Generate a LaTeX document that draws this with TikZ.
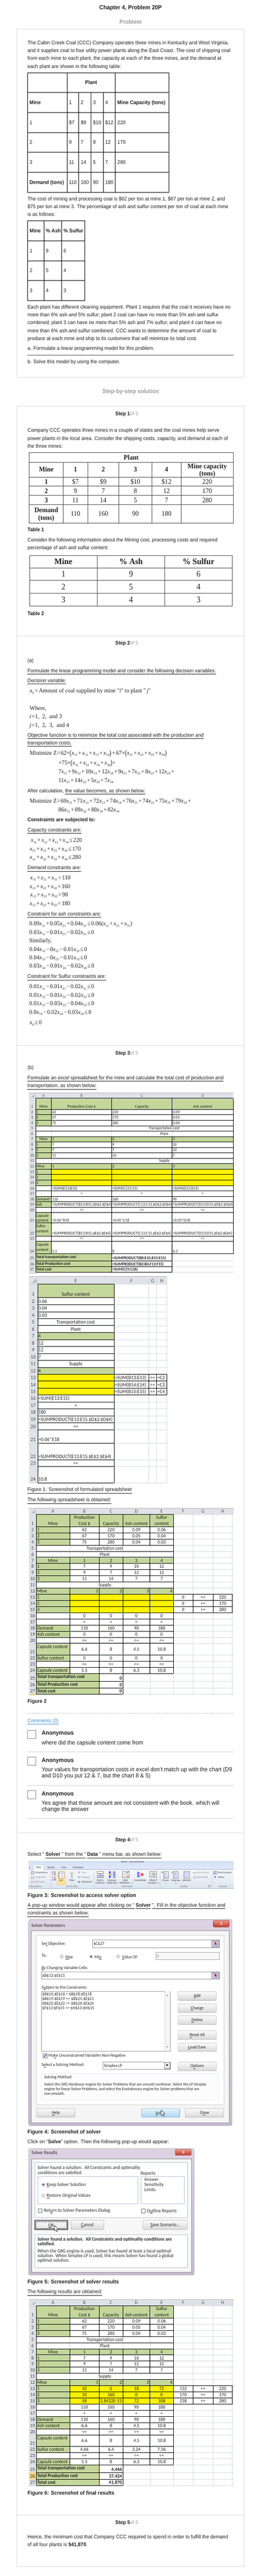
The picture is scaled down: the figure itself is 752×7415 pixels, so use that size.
\documentclass[tikz,border=0pt]{standalone}
\usepackage{fontspec}
\usepackage{graphicx}
\setmainfont[FakeStretch=0.94]{Liberation Sans}
\newfontfamily\serf[FakeStretch=0.94]{Liberation Serif}
\newfontfamily\calb[FakeStretch=0.94]{Carlito}
\definecolor{txt}{HTML}{1E1E1E}
\definecolor{boxb}{HTML}{DCDCDC}
\definecolor{gry}{HTML}{9A9A9A}
\definecolor{xgreen}{HTML}{C4D79B}
\definecolor{xhdr}{HTML}{DFE3E8}
\definecolor{xgrid}{HTML}{D5DAE2}
\definecolor{xtri}{HTML}{1E8C1E}
\definecolor{link}{HTML}{3C8DD3}
\definecolor{dlgA}{HTML}{DDD2E3}
\definecolor{dlgB}{HTML}{C9BCD1}
\definecolor{grpb}{HTML}{B4C4D6}
\definecolor{rbA}{HTML}{F6F8FB}
\definecolor{rbB}{HTML}{DCE5F0}
\definecolor{rbT}{HTML}{D3E1F1}
\definecolor{rbL}{HTML}{9DB2CB}
\definecolor{rowhl}{HTML}{F8D488}
\newcounter{nn}
\newcommand\fs[2]{\fontsize{#1}{#2}\selectfont}
\newcommand\TL[4][]{\stepcounter{nn}\node[anchor=base west,#1] (n\thenn) at (#2,#3) {#4};}
\newcommand\TC[4][]{\stepcounter{nn}\node[anchor=base,#1] (n\thenn) at (#2,#3) {#4};}
\newcommand\TR[4][]{\stepcounter{nn}\node[anchor=base east,#1] (n\thenn) at (#2,#3) {#4};}
\newcommand\ul[1]{\underline{#1\vphantom{gjpy}}}
\newcommand\mth{\serf\fs{17.5}{20}}
\newcommand\sx[1]{\textit{x}\kern0.3pt\raisebox{-3.3pt}{\fs{10}{10}#1}}
\newcommand\xij{\textit{x}\kern0.3pt\raisebox{-3.3pt}{\fs{10}{10}\textit{ij}}}
\newcommand\PL{\hspace{2.2pt}+\hspace{2.2pt}}
\newcommand\MI{\hspace{2.2pt}−\hspace{2.2pt}}
\newcommand\EQ{\hspace{2.2pt}=\hspace{2.2pt}}
\newcommand\LE{\hspace{2.2pt}≤\hspace{2.2pt}}
\newcommand\GE{\hspace{2.2pt}≥\hspace{2.2pt}}
\newcommand\TM{×}
\newcommand\LP{\raisebox{-1.3pt}{\scalebox{1}[1.3]{(}}}
\newcommand\RP{\raisebox{-1.3pt}{\scalebox{1}[1.3]{)}}}
\newcommand\StepHd[2]{\TC{364.6}{#1}{\textbf{Step #2}\textcolor{gry}{ of 5}}}
\newcommand\Radio[3]{\shade[inner color=white,outer color=black!18,draw=black!55] (#1,#2) circle (4.5pt);\ifnum#3=1 \fill[blue!25!black] (#1,#2) circle (2.2pt);\fi}
\newcommand\ChkBox[3]{\begin{scope}[shift={(#1,#2)}]\draw[black!55,fill=white] (0,0) rectangle (11.5,11.5);\ifnum#3=1 \draw[blue!50!black,line width=1.3pt] (2.5,5.5) -- (4.8,9) -- (9.3,2.3);\fi\end{scope}}
\newcommand\Cursor[2]{\begin{scope}[shift={(#1,#2)}]\draw[fill=white,draw=black,line width=0.7pt,line join=round] (0,0) -- (0,16) -- (3.8,12.4) -- (6.4,18.3) -- (8.9,17.2) -- (6.3,11.4) -- (11.3,11.4) -- cycle;\end{scope}}
\newcommand\RngIcon[2]{\begin{scope}[shift={(#1,#2)}]\draw[black!45,fill=black!4] (0,0) rectangle (20,19);\draw[blue!40!black!50,fill=white] (3,3) rectangle (17,16);\foreach \q in {6.3,9.6,12.9} \draw[blue!35] (3,\q) -- (17,\q);\draw[blue!35] (8,3) -- (8,16);\fill[red!75!black] (8.5,4.5) -- (15.5,8.5) -- (12.5,9.6) -- (14.6,13.4) -- (12.9,14.2) -- (10.8,10.4) -- (8.5,12.5) -- cycle;\end{scope}}
\newcommand\Btn[5]{\draw[btn] (#1,#2) rectangle (#3,#4);\stepcounter{nn}\node (n\thenn) at ({(#1+#3)/2},{(#2+#4)/2+0.5}) {#5};}
\newcommand\Tri[2]{\fill[xtri] (#1,#2) -- ++(4,0) -- ++(-4,4) -- cycle;}
\newcommand\DnTri[2]{\fill[black!70] (#1,#2) ++(-1.8,0) -- ++(3.6,0) -- ++(-1.8,2) -- cycle;}
% ---------- spreadsheet (figures 2 and 6), local coords, header top = 0
\newcommand\SheetB{%
\draw[black!30,line width=1.2pt] (82.6,-1) -- (672,-1);
\fill[xhdr] (82.6,0) rectangle (672,16.6);
\fill[xhdr] (82.6,16.6) rectangle (104.6,537);
\fill[black!25] (101.5,3) -- (101.5,14) -- (90.5,14) -- cycle;
\fill[xgreen] (104.6,16.6) rectangle (498.5,52.2);
\fill[xgreen] (104.6,52.2) rectangle (200.2,105.27);
\fill[xgreen] (104.6,140.65) rectangle (498.5,158.34);
\fill[xgreen] (104.6,158.34) rectangle (200.2,211.41);
\fill[xgreen] (104.6,229.1) rectangle (498.5,246.79);
\fill[xgreen] (104.6,246.79) rectangle (200.2,299.86);
\fill[yellow] (200.2,246.79) rectangle (498.5,299.86);
\fill[xgreen] (104.6,335.24) rectangle (200.2,370.62);
\fill[xgreen] (104.6,388.31) rectangle (200.2,439.6);
\fill[xgreen] (104.6,457.3) rectangle (200.2,474.9);
\fill[xgreen] (104.6,474.9) rectangle (285.1,534.6);
\foreach \y in {16.6,52.2,69.89,87.58,105.27,122.96,140.65,158.34,176.03,193.72,211.41,229.1,246.79,264.48,282.17,299.86,317.55,335.24,352.93,370.62,388.31,421.9,439.6,457.3,474.9,497,516.4,534.6} \draw[xg] (82.6,\y) -- (672,\y);
\foreach \x in {104.6,200.2,285.1,353.3,431.2,498.5,555.2,612.3,668.2} \draw[xg] (\x,0) -- (\x,537);
\foreach \y in {16.6,52.2,69.89,87.58,105.27,122.96,140.65,158.34,176.03,193.72,211.41,229.1,246.79,264.48,282.17,299.86,317.55,335.24,352.93,370.62,388.31,421.9,439.6,457.3,474.9} \draw[xb] (104.6,\y) -- (498.5,\y);
\foreach \y in {497,516.4,534.6} \draw[xb] (104.6,\y) -- (353.3,\y);
\draw[xb] (104.6,16.6) -- (104.6,534.6);
\draw[xb] (498.5,16.6) -- (498.5,474.9);
\foreach \x in {200.2,285.1,353.3,431.2} {\draw[xb] (\x,16.6) -- (\x,105.27); \draw[xb] (\x,140.65) -- (\x,211.41); \draw[xb] (\x,229.1) -- (\x,474.9);}
\draw[xb] (285.1,474.9) -- (285.1,534.6); \draw[xb] (353.3,474.9) -- (353.3,534.6);
\draw[xb] (498.5,246.79) rectangle (668.2,299.86);
\draw[xb] (498.5,264.48) -- (668.2,264.48); \draw[xb] (498.5,282.17) -- (668.2,282.17);
\draw[xb] (555.2,246.79) -- (555.2,299.86); \draw[xb] (612.3,246.79) -- (612.3,299.86);
\foreach \x in {200.2,285.1,353.3,431.2} {\Tri{\x}{299.86} \Tri{\x}{352.93} \Tri{\x}{421.9}}
\foreach \y in {246.79,264.48,282.17} {\Tri{498.5}{\y}}
\foreach \x/\t in {152.4/A,242.65/B,319.2/C,392.25/D,464.85/E,526.85/F,583.75/G,640.25/H} {\TC[text=black!70]{\x}{13.2}{\t}}
\foreach \n/\y in {1/48.2,2/65.9,3/83.6,4/101.3,5/119,6/136.7,7/154.4,8/172.1,9/189.8,10/207.5,11/225.2,12/242.9,13/260.6,14/278.3,15/296,16/313.7,17/331.4,18/349.1,19/366.8,20/384.5,21/418.1,22/435.8,23/453.5,24/471.1,25/493.2,26/512.6,27/530.8} {\TC[text=black!75]{93.6}{\y}{\n}}
\TC{152.4}{48.2}{Mine} \TC{242.65}{31}{Production} \TC{242.65}{48.2}{Cost \$} \TC{319.2}{48.2}{Capacity} \TC{392.25}{48.2}{Ash content} \TC{464.85}{31}{Sulfur} \TC{464.85}{48.2}{content}
\foreach \y/\qa/\qb/\qc/\qd/\qe in {65.9/1/62/220/0.09/0.06,83.6/2/67/170/0.05/0.04,101.3/3/75/280/0.04/0.03} {\TL{106.8}{\y}{\qa} \TC{242.65}{\y}{\qb} \TC{319.2}{\y}{\qc} \TC{392.25}{\y}{\qd} \TC{464.85}{\y}{\qe}}
\TC{301.6}{119}{Transportation cost} \TC{301.6}{136.7}{Plant}
\TC{152.4}{154.4}{Mine} \TC{242.65}{154.4}{1} \TC{319.2}{154.4}{2} \TC{392.25}{154.4}{3} \TC{464.85}{154.4}{4}
\foreach \y/\qa/\qb/\qc/\qd/\qe in {172.1/1/7/9/10/12,189.8/2/9/7/12/12,207.5/3/11/14/7/7} {\TL{106.8}{\y}{\qa} \TC{242.65}{\y}{\qb} \TC{319.2}{\y}{\qc} \TC{392.25}{\y}{\qd} \TC{464.85}{\y}{\qe}}
\TC{301.6}{225.2}{Supply}
\TL{106.8}{242.9}{Mine} \TR{282.6}{242.9}{1} \TR{350.8}{242.9}{2} \TR{428.7}{242.9}{3} \TR{496}{242.9}{4}
\foreach \y/\qa/\qh in {260.6/1/220,278.3/2/170,296/3/280} {\TL{106.8}{\y}{\qa} \TC{583.75}{\y}{<=} \TC{640.25}{\y}{\qh}}
\foreach \x in {242.65,319.2,392.25,464.85} {\TC{\x}{331.4}{=} \TC{\x}{384.5}{<=} \TC{\x}{453.5}{<=}}
\TL{106.8}{349.1}{Demand} \TC{242.65}{349.1}{110} \TC{319.2}{349.1}{160} \TC{392.25}{349.1}{90} \TC{464.85}{349.1}{180}
\TL{106.8}{366.8}{Ash content}
\TL{106.8}{402.5}{Capsule content} \TC{242.65}{410}{6.6} \TC{319.2}{410}{8} \TC{392.25}{410}{4.5} \TC{464.85}{410}{10.8}
\TL{106.8}{435.8}{Sulfur content}
\TL{106.8}{471.1}{Capsule content} \TC{242.65}{471.1}{5.5} \TC{319.2}{471.1}{8} \TC{392.25}{471.1}{6.3} \TC{464.85}{471.1}{10.8}
\TL{106.8}{489}{\textbf{Total transportation cost}}
\TL{106.8}{511}{\textbf{Total Production cost}}
\TL{106.8}{530.6}{\textbf{Total cost}}
}
\begin{document}
\begin{tikzpicture}[x=1pt,y=-1pt,
 every node/.style={inner sep=0pt,outer sep=0pt,text=txt,font=\fs{15}{22}},
 xb/.style={draw=black,line width=0.8pt},
 xg/.style={draw=xgrid,line width=0.6pt},
 btn/.style={draw=black!55,rounded corners=2pt,top color=black!2,bottom color=black!15},
 tt/.style={draw=black!70,line width=1.1pt},
 tb/.style={draw=black,line width=0.9pt}]
\fill[white] (0,0) rectangle (752,7415);
\useasboundingbox (0,0) rectangle (752,7415);
% ================= PROBLEM =================
\TC[font=\fs{17}{20}\bfseries]{375.5}{27.7}{Chapter 4, Problem 20P}
\TC[font=\fs{17}{20}\bfseries,text=gry]{375.5}{69.3}{Problem}
\draw[boxb,line width=1pt] (48,84.2) rectangle (702.6,1085.4);
\TL{79.2}{128.4}{The Cabin Creek Coal (CCC) Company operates three mines in Kentucky and West Virginia,}
\TL{79.2}{150.9}{and it supplies coal to four utility power plants along the East Coast. The cost of shipping coal}
\TL{79.2}{173.4}{from each mine to each plant, the capacity at each of the three mines, and the demand at}
\TL{79.2}{195.9}{each plant are shown in the following table:}
% table 1
\draw[tb] (79.1,209.6) rectangle (485.8,553.2);
\foreach \y in {266.5,323.4,381.6,438.5,496.2} \draw[tb] (79.1,\y) -- (485.8,\y);
\foreach \x in {192.5,331.7} \draw[tb] (\x,209.6) -- (\x,553.2);
\foreach \x in {226.1,261.6,296.6} \draw[tb] (\x,266.5) -- (\x,553.2);
\TC{262}{243.2}{\textbf{Plant}}
\TL{85.1}{300}{\textbf{Mine}} \TL{198.5}{300}{1} \TL{232.1}{300}{2} \TL{267.6}{300}{3} \TL{302.6}{300}{4} \TL{337.7}{300}{\textbf{Mine Capacity (tons)}}
\foreach \y/\qa/\qb/\qc/\qd/\qe/\qf in {357.5/1/\$7/\$9/\$10/\$12/220,415/2/9/7/8/12/170,472.3/3/11/14/5/7/280} {\TL{85.1}{\y}{\qa} \TL{198.5}{\y}{\qb} \TL{232.1}{\y}{\qc} \TL{267.6}{\y}{\qd} \TL{302.6}{\y}{\qe} \TL{337.7}{\y}{\qf}}
\TL{85.1}{529.7}{\textbf{Demand (tons)}} \TL{198.5}{529.7}{110} \TL{232.1}{529.7}{160} \TL{267.6}{529.7}{90} \TL{302.6}{529.7}{180}
\TL{79.2}{577.2}{The cost of mining and processing coal is \$62 per ton at mine 1, \$67 per ton at mine 2, and}
\TL{79.2}{599.8}{\$75 per ton at mine 3. The percentage of ash and sulfur content per ton of coal at each mine}
\TL{79.2}{622.3}{is as follows:}
% table 2
\draw[tb] (79.2,635.8) rectangle (243.8,865.2);
\foreach \y in {693.5,750.5,807.4} \draw[tb] (79.2,\y) -- (243.8,\y);
\foreach \x in {125.8,176.6} \draw[tb] (\x,635.8) -- (\x,865.2);
\TL{85.4}{669.7}{\textbf{Mine}} \TL{131.8}{669.7}{\textbf{\% Ash}} \TL{182.6}{669.7}{\textbf{\% Sulfur}}
\foreach \y/\qa/\qb/\qc in {727/1/9/6,784/2/5/4,841.3/3/4/3} {\TL{85.4}{\y}{\qa} \TL{131.8}{\y}{\qb} \TL{182.6}{\y}{\qc}}
\TL{79.2}{889.1}{Each plant has different cleaning equipment. Plant 1 requires that the coal it receives have no}
\TL{79.2}{911.6}{more than 6\% ash and 5\% sulfur; plant 2 coal can have no more than 5\% ash and sulfur}
\TL{79.2}{934.1}{combined; plant 3 can have no more than 5\% ash and 7\% sulfur; and plant 4 can have no}
\TL{79.2}{956.6}{more than 6\% ash and sulfur combined. CCC wants to determine the amount of coal to}
\TL{79.2}{979.1}{produce at each mine and ship to its customers that will minimize its total cost.}
\TL{79.2}{1008.1}{a. Formulate a linear programming model for this problem.}
\draw[black!65,line width=1.6pt] (79.2,1022.9) -- (672,1022.9);
\TL{79.2}{1046.1}{b. Solve this model by using the computer.}
% ================= SOLUTION =================
\TC[font=\fs{17}{20}\bfseries,text=gry]{375.8}{1132.5}{Step-by-step solution}
\draw[boxb,line width=1pt] (48,1168.4) rectangle (702.6,7387.9);
\foreach \y in {1830.3,3009,5275.5,7238.3} \draw[boxb,line width=1pt] (48,\y) -- (702.6,\y);
% ---- step 1
\StepHd{1195.5}{1}
\TL{79.2}{1244.2}{Company CCC operates three mines in a couple of states and the coal mines help serve}
\TL{79.2}{1266.7}{power plants in the local area. Consider the shipping costs, capacity, and demand at each of}
\TL{79.2}{1289.3}{the three mines:}
\draw[tt] (84,1303.3) rectangle (671,1505.7);
\foreach \y in {1330.2,1373.3,1399.7,1426.2,1452.7} \draw[tt] (84,\y) -- (671,\y);
\foreach \x in {181.9,252,341.8,436.8,520.8} \draw[tt] (\x,1330.2) -- (\x,1505.7);
\begin{scope}[every node/.append style={font=\serf\fs{20}{22}}]
\TC{377.3}{1323.7}{\textbf{Plant}}
\TC{133}{1358.4}{\textbf{Mine}}
\foreach \x/\t in {217/1,296.9/2,389.3/3,478.8/4} {\TC{\x}{1358.4}{\textbf{\t}}}
\TC{595.9}{1348.2}{\textbf{Mine capacity}}
\TC{595.9}{1369.6}{\textbf{(tons)}}
\foreach \y/\qa/\qb/\qc/\qd/\qe/\qf in {1393.1/1/\$7/\$9/\$10/\$12/220,1419.6/2/9/7/8/12/170,1446.1/3/11/14/5/7/280} {\TC{133}{\y}{\textbf{\qa}} \TC{217}{\y}{\qb} \TC{296.9}{\y}{\qc} \TC{389.3}{\y}{\qd} \TC{478.8}{\y}{\qe} \TC{595.9}{\y}{\qf}}
\TC{133}{1475.1}{\textbf{Demand}} \TC{133}{1496.5}{\textbf{(tons)}}
\foreach \x/\t in {217/110,296.9/160,389.3/90,478.8/180} {\TC{\x}{1485.8}{\t}}
\end{scope}
\TL{79.2}{1530}{\textbf{Table 1}}
\TL{79.2}{1559.4}{Consider the following information about the Mining cost, processing costs and required}
\TL{79.2}{1582.3}{percentage of ash and sulfur content:}
\draw[tt] (85,1599) rectangle (667.7,1744.1);
\foreach \y in {1634.6,1670.2,1707} \draw[tt] (85,\y) -- (667.7,\y);
\foreach \x in {279.8,473.8} \draw[tt] (\x,1599) -- (\x,1744.1);
\begin{scope}[every node/.append style={font=\serf\fs{24.5}{26}}]
\TC{182.4}{1624.9}{\textbf{Mine}} \TC{376.8}{1624.9}{\textbf{\% Ash}} \TC{570.8}{1624.9}{\textbf{\% Sulfur}}
\foreach \y/\qa/\qb/\qc in {1660.5/1/9/6,1696.7/2/5/4,1733.7/3/4/3} {\TC{182.4}{\y}{\qa} \TC{376.8}{\y}{\qb} \TC{570.8}{\y}{\qc}}
\end{scope}
\TL{79.2}{1771.3}{\textbf{Table 2}}
% ---- step 2
\StepHd{1856}{2}
\TL{79.2}{1906.5}{(a)}
\TL{79.2}{1935.4}{\ul{Formulate the linear programming model and consider the following decision variables:}}
\TL{79.2}{1964.2}{\ul{Decision variable:}}
\TL[font=\mth]{85.4}{1994}{\xij\EQ Amount of coal supplied by mine "\textit{i}" to plant "\,\textit{j}"}
\TL[font=\mth]{85.4}{2044.5}{Where,}
\TL[font=\mth]{85}{2068.6}{\textit{i}\hspace{1pt}=\hspace{1pt}1,\ \ 2,\ \ and 3}
\TL[font=\mth]{85}{2093.2}{\textit{j}\hspace{1pt}=\hspace{1pt}1,\ \ 2,\ \ 3,\ \ and 4}
\TL{79.2}{2121.2}{\ul{Objective function is to minimize the total cost associated with the production and}}
\TL{79.2}{2143.4}{\ul{transportation costs.}}
\TL[font=\mth]{85.4}{2173.4}{Minimize Z\hspace{1pt}=\hspace{1pt}62\TM\LP\sx{11}\PL\sx{12}\PL\sx{13}\PL\sx{14}\RP\PL67\TM\LP\sx{21}\PL\sx{22}\PL\sx{23}\PL\sx{24}\RP}
\TL[font=\mth]{168}{2201.9}{+75\TM\LP\sx{31}\PL\sx{32}\PL\sx{33}\PL\sx{34}\RP+}
\TL[font=\mth]{168}{2226.8}{7\sx{11}\PL9\sx{12}\PL10\sx{13}\PL12\sx{14}\PL9\sx{21}\PL7\sx{22}\PL8\sx{23}\PL12\sx{24}\PL}
\TL[font=\mth]{168}{2251.7}{11\sx{31}\PL14\sx{32}\PL5\sx{33}\PL7\sx{34}}
\TL{79.2}{2281.4}{After calculation, \ul{the value becomes, as shown below:}}
\TL[font=\mth]{85.4}{2311.4}{Minimize Z\hspace{1pt}=\hspace{1pt}69\sx{11}\PL71\sx{12}\PL72\sx{13}\PL74\sx{14}\PL76\sx{21}\PL74\sx{22}\PL75\sx{23}\PL79\sx{24}\PL}
\TL[font=\mth]{168}{2336.3}{86\sx{31}\PL89\sx{32}\PL80\sx{33}\PL82\sx{34}}
\TL{79.2}{2365.2}{\textbf{Constraints are subjected to:}}
\TL{79.2}{2394}{\ul{Capacity constraints are:}}
\TL[font=\mth]{88.8}{2424.5}{\sx{11}\PL\sx{12}\PL\sx{13}\PL\sx{14}\LE220}
\TL[font=\mth]{85.4}{2449}{\sx{21}\PL\sx{22}\PL\sx{23}\PL\sx{24}\LE170}
\TL[font=\mth]{85.4}{2473.5}{\sx{31}\PL\sx{32}\PL\sx{33}\PL\sx{34}\LE280}
\TL{79.2}{2502.8}{\ul{Demand constraints are:}}
\TL[font=\mth]{87}{2532.5}{\sx{11}\PL\sx{21}\PL\sx{31}\EQ110}
\TL[font=\mth]{85.4}{2557}{\sx{12}\PL\sx{22}\PL\sx{32}\EQ160}
\TL[font=\mth]{87}{2581.5}{\sx{13}\PL\sx{23}\PL\sx{33}\EQ90}
\TL[font=\mth]{85.4}{2606}{\sx{12}\PL\sx{22}\PL\sx{32}\EQ180}
\TL{79.2}{2635.3}{\ul{Constraint for ash constraints are:}}
\TL[font=\mth]{84.5}{2664.9}{0.09\sx{11}\PL0.05\sx{21}\PL0.04\sx{31}\LE0.06(\sx{11}\PL\sx{21}\PL\sx{31})}
\TL[font=\mth]{84.5}{2689.4}{0.03\sx{11}\MI0.01\sx{21}\MI0.02\sx{31}\LE0}
\TL[font=\mth]{84.5}{2713.6}{Similarly,}
\TL[font=\mth]{84.5}{2737.7}{0.04\sx{12}\MI0\sx{22}\MI0.01\sx{32}\LE0}
\TL[font=\mth]{84.5}{2762.2}{0.04\sx{13}\MI0\sx{23}\MI0.01\sx{33}\LE0}
\TL[font=\mth]{84.5}{2786.3}{0.03\sx{14}\MI0.01\sx{24}\MI0.02\sx{34}\LE0}
\TL{79.2}{2816}{\ul{Constraint for Sulfur constraints are:}}
\TL[font=\mth]{84.5}{2845.6}{0.01\sx{11}\MI0.01\sx{21}\MI0.02\sx{31}\LE0}
\TL[font=\mth]{84.5}{2870.1}{0.01\sx{12}\MI0.01\sx{22}\MI0.02\sx{32}\LE0}
\TL[font=\mth]{84.5}{2894.2}{0.01\sx{13}\MI0.03\sx{23}\MI0.04\sx{33}\LE0}
\TL[font=\mth]{84.5}{2918.8}{0.0\sx{14}\MI0.02\sx{24}\MI0.03\sx{34}\LE0}
\TL[font=\mth]{85.4}{2948.4}{\xij\GE0}
% ---- step 3
\StepHd{3036}{3}
\TL{79.2}{3078.1}{(b)}
\TL{79.2}{3107.2}{\ul{Formulate an excel spreadsheet for the mine and calculate the total cost of production and}}
\TL{79.2}{3130}{\ul{transportation, as shown below:}}
% sheet 1 part 1
\begin{scope}[every node/.append style={font=\calb\fs{12}{13}}]
\draw[black!30,line width=1.2pt] (82.6,3145.3) -- (672,3145.3);
\fill[xhdr] (82.6,3146.7) rectangle (671,3161.3);
\fill[xhdr] (82.6,3161.3) rectangle (102.2,3667.4);
\fill[black!25] (100,3148.5) -- (100,3159.5) -- (89,3159.5) -- cycle;
\fill[xgreen] (102.2,3161.3) rectangle (671,3192.9);
\fill[xgreen] (102.2,3192.9) rectangle (147.8,3240);
\fill[xgreen] (102.2,3271.2) rectangle (671,3286.6);
\fill[xgreen] (102.2,3286.6) rectangle (147.8,3333.7);
\fill[xgreen] (102.2,3349.1) rectangle (671,3364.9);
\fill[xgreen] (102.2,3364.9) rectangle (147.8,3412);
\fill[yellow] (147.8,3364.9) rectangle (671,3412);
\fill[xgreen] (102.2,3443.2) rectangle (147.8,3474.4);
\fill[xgreen] (102.2,3490.3) rectangle (147.8,3557.5);
\fill[xgreen] (102.2,3572.9) rectangle (147.8,3608.9);
\fill[xgreen] (102.2,3608.9) rectangle (321.1,3661.5);
\foreach \y in {3161.3,3192.9,3208.7,3224.2,3240,3255.4,3271.2,3286.6,3302.4,3317.9,3333.7,3349.1,3364.9,3380.7,3396.2,3412,3427.8,3443.2,3459,3474.4,3490.3,3519.9,3557.5,3572.9,3608.9,3628.6,3645.7,3661.5} \draw[xg] (82.6,\y) -- (671,\y);
\foreach \x in {102.2,147.8,321.1,494.9} \draw[xg] (\x,3146.7) -- (\x,3667.4);
\foreach \y in {3161.3,3192.9,3208.7,3224.2,3240,3255.4,3271.2,3286.6,3302.4,3317.9,3333.7,3349.1,3364.9,3380.7,3396.2,3412,3427.8,3443.2,3459,3474.4,3490.3,3519.9,3557.5,3572.9,3608.9} \draw[xb] (102.2,\y) -- (671,\y);
\foreach \y in {3628.6,3645.7,3661.5} \draw[xb] (102.2,\y) -- (494.9,\y);
\draw[xb] (102.2,3161.3) -- (102.2,3661.5);
\draw[xb] (671,3161.3) -- (671,3608.9);
\foreach \x in {147.8,321.1,494.9} {\draw[xb] (\x,3161.3) -- (\x,3240); \draw[xb] (\x,3271.2) -- (\x,3333.7); \draw[xb] (\x,3349.1) -- (\x,3608.9);}
\draw[xb] (321.1,3608.9) -- (321.1,3661.5); \draw[xb] (494.9,3608.9) -- (494.9,3661.5);
\foreach \x in {147.8,321.1,494.9} {\Tri{\x}{3412} \Tri{\x}{3459} \Tri{\x}{3519.9}}
\foreach \x/\t in {125/A,234.5/B,408/C,583/D} {\TC[text=black!70]{\x}{3157.8}{\t}}
\foreach \n/\y in {1/3189.4,2/3205.2,3/3220.7,4/3236.5,5/3251.9,6/3267.7,7/3283.1,8/3298.9,9/3314.4,10/3330.2,11/3345.6,12/3361.4,13/3377.2,14/3392.7,15/3408.5,16/3424.3,17/3439.7,18/3455.5,19/3470.9,20/3486.8,21/3516.4,22/3554,23/3569.4,24/3605.4,25/3625.1,26/3642.2,27/3658} {\TC[text=black!75]{92.4}{\y}{\n}}
\TC{125}{3189.4}{Mine} \TC{234.5}{3189.4}{Production Cost \$} \TC{408}{3189.4}{Capacity} \TC{583}{3189.4}{Ash content}
\foreach \y/\qa/\qb/\qc/\qd in {3205.2/1/62/220/0.09,3220.7/2/67/170/0.05,3236.5/3/75/280/0.04} {\TL{104.2}{\y}{\qa} \TL{149.8}{\y}{\qb} \TL{323}{\y}{\qc} \TL{497}{\y}{\qd}}
\TC{472}{3251.9}{Transportation cost}
\TC{472.8}{3267.7}{Plant}
\TC{125}{3283.1}{Mine} \TL{149.8}{3283.1}{1} \TL{323}{3283.1}{2} \TL{497}{3283.1}{3}
\foreach \y/\qa/\qb/\qc/\qd in {3298.9/1/7/9/10,3314.4/2/9/7/12,3330.2/3/11/14/7} {\TL{104.2}{\y}{\qa} \TL{149.8}{\y}{\qb} \TL{323}{\y}{\qc} \TL{497}{\y}{\qd}}
\TC{472.8}{3345.6}{Supply}
\TL{104.2}{3361.4}{Mine} \TL{149.8}{3361.4}{1} \TL{323}{3361.4}{2} \TL{497}{3361.4}{3}
\TL{104.2}{3377.2}{1} \TL{104.2}{3392.7}{2} \TL{104.2}{3408.5}{3}
\TL{149.8}{3424.3}{=SUM(B13:B15)} \TL{323}{3424.3}{=SUM(C13:C15)} \TL{497}{3424.3}{=SUM(D13:D15)}
\foreach \x in {234.5,408,583} {\TC{\x}{3439.7}{=} \TC{\x}{3486.8}{<=} \TC{\x}{3569.4}{<=}}
\TL{104.2}{3455.5}{Demand} \TL{149.8}{3455.5}{110} \TL{323}{3455.5}{160} \TL{497}{3455.5}{90}
\TL{104.2}{3470.9}{Ash} \TL{149.8}{3470.9}{=SUMPRODUCT(B13:B15,\$D\$2:\$D\$4)} \TL{323}{3470.9}{=SUMPRODUCT(C13:C15,\$D\$2:\$D\$4)} \TL{497}{3470.9}{=SUMPRODUCT(D13:D15,\$D\$2:\$D\$4)}
\TL{104.2}{3503}{Capsule} \TL{104.2}{3516.4}{content} \TL{149.8}{3516.4}{=0.06*B18} \TL{323}{3516.4}{=0.05*C18} \TL{497}{3516.4}{=0.05*D18}
\TL{104.2}{3532.5}{Sulfur} \TL{104.2}{3548}{content} \TL{149.8}{3554}{=SUMPRODUCT(B13:B15,\$E\$2:\$E\$4)} \TL{323}{3554}{=SUMPRODUCT(C13:C15,\$E\$2:\$E\$4)} \TL{497}{3554}{=SUMPRODUCT(D13:D15,\$E\$2:\$E\$4)}
\TL{104.2}{3586}{Capsule} \TL{104.2}{3602}{content} \TL{149.8}{3605.4}{5.5} \TL{323}{3605.4}{8} \TL{497}{3605.4}{6.3}
\TL{104.2}{3622}{\textbf{Total transportation cost}} \TL{323}{3625.1}{\textbf{=SUMPRODUCT(B8:E10,B13:E15)}}
\TL{104.2}{3641}{\textbf{Total Production cost}} \TL{323}{3642.2}{\textbf{=SUMPRODUCT(B2:B4,F13:F15)}}
\TL{104.2}{3658}{\textbf{Total cost}} \TL{323}{3658}{\textbf{=SUM(C25:C26)}}
\end{scope}
% sheet 1 part 2
\begin{scope}[every node/.append style={font=\calb\fs{15}{16}}]
\draw[black!30,line width=1.2pt] (82.6,3674.6) -- (480,3674.6);
\fill[xhdr] (82.6,3675.3) rectangle (480,3695.9);
\fill[xhdr] (82.6,3695.9) rectangle (108,4270);
\fill[black!25] (105.5,3678) -- (105.5,3693) -- (91,3693) -- cycle;
\fill[xgreen] (108,3695.9) rectangle (327.8,3735);
\fill[xgreen] (108,3835.5) rectangle (327.8,3855.6);
\fill[xgreen] (108,3935.5) rectangle (327.8,3955.7);
\fill[yellow] (108,3955.7) rectangle (327.8,4015.4);
\foreach \y in {3695.9,3735,3755.2,3775.4,3795.5,3815.3,3835.5,3855.6,3875.8,3895.6,3915.7,3935.5,3955.7,3975.4,3995.6,4015.4,4035.1,4055.3,4075.1,4095.2,4115.4,4153.7,4201.6,4221.4,4268} \draw[xg] (82.6,\y) -- (480,\y);
\foreach \x in {108,327.8,427.7,449.8,480} \draw[xg] (\x,3675.3) -- (\x,4270);
\foreach \y in {3695.9,3735,3755.2,3775.4,3795.5,3815.3,3835.5,3855.6,3875.8,3895.6,3915.7,3935.5,3955.7,3975.4,3995.6,4015.4,4035.1,4055.3,4075.1,4095.2,4115.4,4153.7,4201.6,4221.4,4268} \draw[xb] (108,\y) -- (327.8,\y);
\draw[xb] (108,3695.9) -- (108,4268); \draw[xb] (327.8,3695.9) -- (327.8,4268);
\draw[xb] (327.8,3955.7) rectangle (480,4015.4);
\draw[xb] (327.8,3975.4) -- (480,3975.4); \draw[xb] (327.8,3995.6) -- (480,3995.6);
\draw[xb] (427.7,3955.7) -- (427.7,4015.4); \draw[xb] (449.8,3955.7) -- (449.8,4015.4);
\Tri{108}{4015.4} \Tri{108}{4075.1} \Tri{108}{4153.7}
\Tri{327.8}{3955.7} \Tri{327.8}{3975.4} \Tri{327.8}{3995.6}
\foreach \x/\t in {217.9/E,377.8/F,438.8/G,464.9/H} {\TC[text=black!70]{\x}{3691.5}{\t}}
\foreach \n/\y in {1/3730.5,2/3750.7,3/3770.9,4/3791,5/3810.8,6/3831,7/3851.1,8/3871.3,9/3891.1,10/3911.2,11/3931,12/3951.2,13/3970.9,14/3991.1,15/4010.9,16/4030.6,17/4050.8,18/4070.6,19/4090.7,20/4110.9,21/4149.2,22/4197.1,23/4216.9,24/4263.5} {\TC[text=black!75]{95.3}{\y}{\n}}
\TC{217.9}{3730.5}{Sulfur content}
\TL{110.4}{3750.7}{0.06} \TL{110.4}{3770.9}{0.04} \TL{110.4}{3791}{0.03}
\TC{217.9}{3810.8}{Transportation cost} \TC{217.9}{3831}{Plant}
\TL{110.4}{3851.1}{4} \TL{110.4}{3871.3}{12} \TL{110.4}{3891.1}{12} \TL{110.4}{3911.2}{7}
\TC{217.9}{3931}{Supply}
\TL{110.4}{3951.2}{4}
\TL{330.2}{3970.9}{=SUM(B13:E13)} \TC{438.8}{3970.9}{<=} \TL{452.6}{3970.9}{=C2}
\TL{330.2}{3991.1}{=SUM(B14:E14)} \TC{438.8}{3991.1}{<=} \TL{452.6}{3991.1}{=C3}
\TL{330.2}{4010.9}{=SUM(B15:E15)} \TC{438.8}{4010.9}{<=} \TL{452.6}{4010.9}{=C4}
\TL{110.4}{4030.6}{=SUM(E13:E15)}
\TC{217.9}{4050.8}{=}
\TL{110.4}{4070.6}{180}
\TL{110.4}{4090.7}{=SUMPRODUCT(E13:E15,\$D\$2:\$D\$4)}
\TC{217.9}{4110.9}{<=}
\TL{110.4}{4149.2}{=0.06*E18}
\TL{110.4}{4197.1}{=SUMPRODUCT(E13:E15,\$E\$2:\$E\$4)}
\TC{217.9}{4216.9}{<=}
\TL{110.4}{4263.5}{10.8}
\end{scope}
\TL{79.2}{4293.2}{\ul{Figure 1: Screenshot of formulated spreadsheet}}
\TL{79.2}{4322.8}{\ul{The following spreadsheet is obtained:}}
% sheet 2
\begin{scope}[shift={(0,4342)},every node/.append style={font=\calb\fs{14.3}{15}}]
\SheetB
\foreach \y in {260.6,278.3,296} {\TC{526.85}{\y}{0}}
\foreach \x in {242.65,319.2,392.25,464.85} {\TC{\x}{313.7}{0} \TC{\x}{366.8}{0} \TC{\x}{435.8}{0}}
\TR{350.8}{493.2}{\textbf{0}} \TR{350.8}{512.6}{\textbf{0}} \TR{350.8}{530.8}{\textbf{0}}
\fill[orange!70!yellow] (82.6,535) rectangle (104.6,537.5);
\end{scope}
\TL{79.2}{4902}{\textbf{Figure 2}}
\draw[black!30,dash pattern=on 3pt off 3pt] (79.2,4931.5) -- (672,4931.5);
\TL[text=link]{79.2}{4958}{\underline{Comments (3)}}
% comments
\foreach \y in {4979.8,5058,5154.1} \draw[black!45,line width=0.8pt] (79.2,\y) rectangle (102.7,\y+23.6);
\TL[font=\fs{17}{19}]{120}{4994.5}{\textbf{Anonymous}}
\TL[font=\fs{17}{19}]{120}{5021.4}{where did the capsule content come from}
\TL[font=\fs{17}{19}]{120}{5072.4}{\textbf{Anonymous}}
\TL[font=\fs{17}{19}]{120}{5099.6}{Your values for transportation costs in excel don't match up with the chart (D9}
\TL[font=\fs{17}{19}]{120}{5117.4}{and D10 you put 12 \& 7, but the chart 8 \& 5)}
\TL[font=\fs{17}{19}]{120}{5168.4}{\textbf{Anonymous}}
\TL[font=\fs{17}{19}]{120}{5195.3}{Yes agree that those amount are not consistent with the book. which will}
\TL[font=\fs{17}{19}]{120}{5213.5}{change the answer}
\foreach \y in {5042.2,5138.3,5234} \draw[black!18,line width=0.8pt] (79.2,\y) -- (672,\y);
% ---- step 4
\StepHd{5301.4}{4}
\TL{79.2}{5343}{Select “ \ul{\textbf{Solver} ” from the “} \ul{\textbf{Data} ” menu bar, as shown below:}}
% ribbon
\begin{scope}[every node/.append style={font=\calb\fs{7.8}{8.5},text=black!80}]
\shade[top color=rbT,bottom color=rbT!80!blue!30] (82.6,5356.6) rectangle (672,5381.1);
\TC[font=\calb\fs{7.3}{8}]{381.6}{5362.2}{Book1 - Microsoft Excel}
\draw[rbL,fill=rbA,rounded corners=1.5pt] (96,5381.1) -- (96,5367.3) -- (125.8,5367.3) -- (125.8,5381.1);
\TL{83.5}{5377.4}{s} \TC{110.9}{5377.4}{Data} \TC{146.9}{5377.4}{Review} \TC{183.4}{5377.4}{View} \TC{225.1}{5377.4}{Developer}
\shade[top color=rbA,bottom color=rbB] (82.6,5381.1) rectangle (672,5435.7);
\draw[rbL] (82.6,5381.1) -- (96,5381.1); \draw[rbL] (125.8,5381.1) -- (672,5381.1); \draw[rbL] (82.6,5435.7) -- (672,5435.7);
\foreach \x in {145.4,270.2,459.8,609.6} \draw[rbL!60] (\x,5384) -- (\x,5433);
\TL[text=black!60]{82.6}{5432.3}{Connections} \TC[text=black!60]{207.8}{5432.3}{Sort \& Filter} \TC[text=black!60]{365.8}{5432.3}{Data Tools} \TC[text=black!60]{529}{5432.3}{Outline} \TC[text=black!60]{641.8}{5432.3}{Analysis}
\draw[black!40,fill=blue!15] (88.5,5386.5) rectangle (96,5393.5);
\draw[black!30,fill=black!10] (88.5,5400.5) rectangle (96,5407);
\draw[black!30,fill=black!8] (88.5,5414.5) rectangle (96,5419.5);
\TL{100.8}{5392.5}{Connections} \TL[text=black!45]{100.8}{5406.3}{Properties} \TL[text=black!45]{100.8}{5419.8}{Edit Links}
\TL[font=\calb\fs{6.5}{6.5}\bfseries,text=blue!70!black]{150.3}{5391}{A} \TL[font=\calb\fs{6.5}{6.5}\bfseries,text=red!70!black]{150.3}{5397.5}{Z}
\draw[black!70,line width=0.8pt] (157.8,5385.5) -- (157.8,5396); \fill[black!70] (155.8,5395) -- (159.8,5395) -- (157.8,5398) -- cycle;
\TL[font=\calb\fs{6.5}{6.5}\bfseries,text=red!70!black]{150.3}{5406.5}{Z} \TL[font=\calb\fs{6.5}{6.5}\bfseries,text=blue!70!black]{150.3}{5413}{A}
\draw[black!70,line width=0.8pt] (157.8,5401) -- (157.8,5411.5); \fill[black!70] (155.8,5410.5) -- (159.8,5410.5) -- (157.8,5413.5) -- cycle;
\draw[draw={rgb,255:red,229;green,195;blue,101},top color={rgb,255:red,255;green,244;blue,200},bottom color={rgb,255:red,253;green,222;blue,140},rounded corners=2pt] (163.2,5385.5) rectangle (188.2,5425);
\draw[black!40,fill=white] (167.5,5388) rectangle (184,5405);
\TL[font=\calb\fs{6}{6}\bfseries,text=blue!70!black]{169}{5395.5}{A} \TL[font=\calb\fs{6}{6}\bfseries,text=blue!70!black]{176.5}{5395.5}{Z}
\TL[font=\calb\fs{6}{6}\bfseries,text=red!70!black]{169}{5403.5}{Z} \TL[font=\calb\fs{6}{6}\bfseries,text=red!70!black]{176.5}{5403.5}{A}
\TC{175.7}{5414.5}{Sort}
\shade[top color=black!10,bottom color=black!40] (198,5387) -- (215.5,5387) -- (208.5,5396) -- (208.5,5405) -- (204.8,5403) -- (204.8,5396) -- cycle;
\TC{206.9}{5414.5}{Filter}
\fill[black!30] (223,5387.5) -- (231,5387.5) -- (228,5391) -- (228,5394) -- (226,5393) -- (226,5391) -- cycle;
\fill[black!30] (223,5401.3) -- (231,5401.3) -- (228,5404.8) -- (228,5407.8) -- (226,5406.8) -- (226,5404.8) -- cycle;
\fill[black!50] (223,5414.8) -- (231,5414.8) -- (228,5418.3) -- (228,5421.3) -- (226,5420.3) -- (226,5418.3) -- cycle;
\TL[text=black!45]{234.2}{5392.5}{Clear} \TL[text=black!45]{234.2}{5406.3}{Reapply} \TL{234.2}{5419.8}{Advanced}
\draw[black!45,fill=white] (279,5386) rectangle (297,5392.5);
\draw[black!45,fill=blue!20] (279,5397) rectangle (287,5404); \draw[black!45,fill=blue!20] (289,5397) rectangle (297,5404);
\fill[black!60] (285.8,5393.3) -- (290.2,5393.3) -- (288,5396.2) -- cycle;
\fill[blue!60] (313,5386) rectangle (319,5405); \fill[yellow!80!orange] (313,5393) rectangle (319,5398); \fill[blue!40] (325,5386) rectangle (332,5405);
\fill[black!60] (320,5394) -- (324,5395.5) -- (320,5397) -- cycle;
\draw[black!45,fill=white] (352,5387) rectangle (371,5404);
\foreach \q in {5391,5395,5399} \draw[black!30] (354,\q) -- (363,\q);
\draw[red!70,line width=1pt] (367,5400.5) circle (2.8pt);
\draw[green!50!black,line width=1pt] (364,5389.5) -- (366,5392.5) -- (370,5386);
\fill[blue!50] (394,5388) rectangle (400,5404); \fill[red!70] (405,5392) rectangle (412,5400);
\draw[blue!60,line width=0.8pt] (400,5390) -- (405,5394); \draw[blue!60,line width=0.8pt] (400,5402) -- (405,5398);
\draw[black!45,fill=white] (431,5386) rectangle (449,5403);
\foreach \q in {5390.5,5395,5399.5} \draw[black!25] (431,\q) -- (449,\q);
\foreach \q in {437,443} \draw[black!25] (\q,5386) -- (\q,5403);
\TC[font=\fs{10}{10}\bfseries,text=green!50!black]{442}{5401}{?}
\TC{288}{5414.5}{Text to} \TC{288}{5422.5}{Columns}
\TC{322.6}{5414.5}{Remove} \TC{322.6}{5422.5}{Duplicates}
\TC{361}{5414.5}{Data} \TC{358}{5422.5}{Validation} \DnTri{380.5}{5419.5}
\TC{403.2}{5414.5}{Consolidate}
\TC{440.6}{5414.5}{What-If} \TC{437.5}{5422.5}{Analysis} \DnTri{455}{5419.5}
\draw[black!45,fill=white] (470,5387) rectangle (484,5405); \foreach \q in {5391,5395,5399,5403} \draw[blue!40] (472,\q) -- (482,\q);
\fill[green!55!black] (466,5388) rectangle (469,5391);
\draw[black!45,fill=white] (498,5387) rectangle (512,5405); \foreach \q in {5391,5395,5399,5403} \draw[blue!40] (500,\q) -- (510,\q);
\draw[red!70,line width=1pt] (502,5397) -- (507,5390); \fill[green!55!black] (494,5388) rectangle (497,5391);
\draw[black!45,fill=white] (528,5387) rectangle (545,5405); \foreach \q in {5390,5394,5398,5402} \draw[blue!40] (530,\q) -- (543,\q);
\TC{476.2}{5414.5}{Group} \DnTri{476.2}{5420}
\TC{505.4}{5414.5}{Ungroup} \DnTri{505.4}{5420}
\TC{536.6}{5414.5}{Subtotal}
\draw[black!35] (555,5389) -- (563,5389); \draw[black!35] (558,5392) -- (563,5392);
\draw[black!35] (555,5403) -- (563,5403); \draw[black!35] (558,5406) -- (563,5406);
\TL[text=black!45]{565.4}{5392.5}{Show Detail} \TL[text=black!45]{565.4}{5406.3}{Hide Detail}
\draw[black!40] (599.5,5426.5) rectangle (603.5,5430.5);
\draw[black!45,fill=white] (614.5,5386) rectangle (623,5394.5); \fill[blue!60] (616,5390) rectangle (617.5,5393.5); \fill[blue!60] (619,5388) rectangle (620.5,5393.5);
\TC[font=\fs{9.5}{9.5}\bfseries,text=blue!70!black]{618.5}{5408}{?}
\TL{626.4}{5392.5}{Data Analysis} \TL{626.4}{5406.3}{Solver}
\end{scope}
\TL[font=\fs{15.5}{18}\bfseries]{79.2}{5461}{Figure 3: Screenshot to access solver option}
\TL{79.2}{5489.3}{\ul{A pop-up window would appear after clicking on “} \ul{\textbf{Solver}} \ul{”. Fill in the objective function and}}
\TL{79.2}{5512.2}{\ul{constraints as shown below:}}
% solver parameters dialog
\begin{scope}[every node/.append style={font=\calb\fs{13}{14},text=black!85}]
\shade[top color=dlgA,bottom color=dlgB,draw=black!65,rounded corners=5pt] (82.6,5525.4) rectangle (667.2,6118.5);
\TL[font=\calb\fs{14}{15}]{90.2}{5546.5}{Solver Parameters}
\draw[draw={rgb,255:red,110;green,40;blue,35},top color={rgb,255:red,232;green,150;blue,135},bottom color={rgb,255:red,192;green,57;blue,43},rounded corners=3pt] (613.4,5527.4) rectangle (659,5547.2);
\TC[font=\fs{11}{12}\bfseries,text=white]{636.2}{5541.5}{X}
\draw[black!45,fill=black!4] (89.8,5556.3) rectangle (659,6109.8);
\draw[black!18,fill=white] (104.6,5570.9) rectangle (643.2,6058.4);
\TL{120}{5598.6}{Se\underline{t} Objective:}
\draw[black!40,fill=white] (265.4,5584) rectangle (630.2,5605.7);
\TL{268.8}{5599.4}{\$C\$27}
\RngIcon{608.5}{5585.3}
\TL{120}{5633.8}{To:}
\Radio{177.6}{5632.2}{0} \TL{188}{5637}{\underline{M}ax}
\Radio{262}{5632.2}{1} \TL{272}{5637}{Mi\underline{n}}
\Radio{339.8}{5632.2}{0} \TL{351}{5637}{\underline{V}alue Of:}
\draw[black!35,fill=black!3] (447.8,5619.5) rectangle (630.2,5640.5);
\TL[text=black!45]{451}{5635}{0}
\TL{120}{5668.6}{\underline{B}y Changing Variable Cells:}
\draw[black!40,fill=white] (118.6,5675.7) rectangle (630.2,5696.6);
\TL{121.5}{5691}{\$B\$13:\$E\$15}
\RngIcon{608.5}{5677}
\TL{120}{5724.8}{S\underline{u}bject to the Constraints:}
\draw[black!40,fill=white] (118.6,5731.4) rectangle (490,5903.4);
\fill[black!4] (472.8,5732) rectangle (489.4,5902.8);
\draw[black!15] (472.8,5732) -- (472.8,5902.8);
\fill[black!40] (478,5745) -- (484,5745) -- (481,5741) -- cycle;
\fill[black!40] (478,5890.5) -- (484,5890.5) -- (481,5894.5) -- cycle;
\TL{121.4}{5744.5}{\$B\$16:\$E\$16 = \$B\$18:\$E\$18}
\TL{121.4}{5757.6}{\$B\$19:\$E\$19 <= \$B\$21:\$E\$21}
\TL{121.4}{5770.6}{\$B\$22:\$E\$22 <= \$B\$24:\$E\$24}
\TL{121.4}{5783.7}{\$F\$13:\$F\$15 <= \$H\$13:\$H\$15}
\Btn{511.7}{5732.2}{622.1}{5757.5}{\underline{A}dd}
\Btn{511.7}{5767.8}{622.1}{5792.7}{\underline{C}hange}
\Btn{511.7}{5802.6}{622.1}{5827.5}{\underline{D}elete}
\Btn{511.7}{5845.3}{622.1}{5870.6}{\underline{R}eset All}
\Btn{511.7}{5880.5}{622.1}{5905.4}{\underline{L}oad/Save}
\ChkBox{123.8}{5911.1}{1}
\TL{139.2}{5921.3}{Ma\underline{k}e Unconstrained Variables Non-Negative}
\TL{120}{5948.2}{S\underline{e}lect a Solving Method:}
\draw[black!40,fill=white] (295.2,5934.7) rectangle (489.6,5955.6);
\TL{298.6}{5950}{Simplex LP}
\draw[black!50,top color=white,bottom color=black!12] (473,5936.2) rectangle (488.2,5954.2);
\fill[black] (477.5,5942.5) -- (483.7,5942.5) -- (480.6,5947.5) -- cycle;
\Btn{511.7}{5935.5}{622.1}{5960.8}{O\underline{p}tions}
\draw[grpb,fill=black!1,rounded corners=2pt] (118.6,5968.7) rectangle (628.8,6044.6);
\TL{127.2}{5983.4}{Solving Method}
\TL[font=\calb\fs{12}{13}]{127.2}{6004.3}{Select the GRG Nonlinear engine for Solver Problems that are smooth nonlinear. Select the LP Simplex}
\TL[font=\calb\fs{12}{13}]{127.2}{6017.4}{engine for linear Solver Problems, and select the Evolutionary engine for Solver problems that are}
\TL[font=\calb\fs{12}{13}]{127.2}{6030.4}{non-smooth.}
\Btn{105.6}{6069.5}{215.5}{6094.4}{\underline{H}elp}
\draw[draw={rgb,255:red,60;green,127;blue,177},rounded corners=2pt,top color={rgb,255:red,229;green,243;blue,252},bottom color={rgb,255:red,170;green,214;blue,244}] (407,6069.5) rectangle (517,6094.4);
\TL{447.2}{6086.5}{\underline{S}ol}
\Cursor{463.5}{6073.6}
\Btn{532.8}{6069.5}{643.2}{6094.4}{Cl\underline{o}se}
\end{scope}
\TL[font=\fs{15.5}{18}\bfseries]{79.2}{6142}{Figure 4: Screenshot of solver}
\TL{79.2}{6170.6}{Click on “\textbf{Solve}” option. Then the following pop-up would appear:}
% solver results dialog
\begin{scope}[every node/.append style={font=\calb\fs{14.3}{15},text=black!85}]
\shade[top color=dlgA,bottom color=dlgB,draw=black!65,rounded corners=5pt] (82.6,6185) rectangle (557.8,6548.7);
\TL[font=\calb\fs{14}{15}]{91.2}{6201.3}{Solver Results}
\draw[draw={rgb,255:red,110;green,40;blue,35},top color={rgb,255:red,232;green,150;blue,135},bottom color={rgb,255:red,192;green,57;blue,43},rounded corners=3pt] (504,6186.5) rectangle (550,6204);
\TC[font=\fs{11}{12}\bfseries,text=white]{527}{6199.5}{X}
\draw[black!45,fill=black!3] (90.2,6214.2) rectangle (550.4,6540.8);
\draw[grpb,fill=white] (99.4,6223.7) rectangle (539,6382.7);
\TL{108}{6244.5}{Solver found a solution.\ \ All Constraints and optimality}
\TL{108}{6259.5}{conditions are satisfied.}
\TL{404.6}{6261}{Reports}
\draw[grpb] (108.5,6264) rectangle (396,6343.5);
\Radio{124.8}{6288.6}{1} \TL{134.4}{6293.3}{\underline{K}eep Solver Solution}
\Radio{124.8}{6320.2}{0} \TL{134.4}{6324.9}{\underline{R}estore Original Values}
\draw[grpb,fill=white] (404.6,6264.5) rectangle (530,6343.5);
\TL{415.2}{6278.2}{Answer} \TL{415.2}{6292.8}{Sensitivity} \TL{415.2}{6307.8}{Limits}
\ChkBox{109.4}{6357}{0} \TL{126.2}{6367.6}{Ret\underline{u}rn to Solver Parameters Dialog}
\ChkBox{406}{6358}{0} \TL{422.4}{6368.8}{O\underline{u}tline Reports}
\draw[black,line width=1.3pt,top color=black!2,bottom color=black!12] (99.4,6391.4) rectangle (194.9,6417.5);
\draw[black,dotted] (102.6,6394.6) rectangle (191.7,6414.3);
\TC{147.2}{6409.5}{\underline{O}K}
\Cursor{156.5}{6405.5}
\Btn{203.5}{6391.4}{298.6}{6417.5}{\underline{C}ancel}
\Btn{410.9}{6391.4}{539}{6417.5}{\underline{S}ave Scenario...}
\draw[grpb,fill=white] (99.4,6431.3) rectangle (539,6526.6);
\TL{108}{6449.5}{\textbf{Solver found a solution.\ \ All Constraints and optimality conditions are}}
\TL{108}{6464.2}{\textbf{satisfied.}}
\TL{108}{6483.6}{When the GRG engine is used, Solver has found at least a local optimal}
\TL{108}{6497.4}{solution. When Simplex LP is used, this means Solver has found a global}
\TL{108}{6511.6}{optimal solution.}
\end{scope}
\TL[font=\fs{15.5}{18}\bfseries]{79.2}{6573.4}{Figure 5: Screenshot of solver results}
\TL{79.2}{6602}{\ul{The following results are obtained:}}
% sheet 3
\begin{scope}[shift={(0,6620)},every node/.append style={font=\calb\fs{14.3}{15}}]
\SheetB
\foreach \y/\qb/\qc/\qd/\qe/\qf in {260.6/42/0/18/72/132,278.3/10/160/0/0/170,296/58/2.8422E-13/72/108/238} {\TC{242.65}{\y}{\qb} \TC{319.2}{\y}{\qc} \TC{392.25}{\y}{\qd} \TC{464.85}{\y}{\qe} \TC{526.85}{\y}{\qf}}
\TC{242.65}{313.7}{110} \TC{319.2}{313.7}{160} \TC{392.25}{313.7}{90} \TC{464.85}{313.7}{180}
\TC{242.65}{366.8}{6.6} \TC{319.2}{366.8}{8} \TC{392.25}{366.8}{4.5} \TC{464.85}{366.8}{10.8}
\TC{242.65}{435.8}{4.66} \TC{319.2}{435.8}{6.4} \TC{392.25}{435.8}{3.24} \TC{464.85}{435.8}{7.56}
\TR{350.8}{493.2}{\textbf{4,446}} \TR{350.8}{512.6}{\textbf{37,424}} \TR{350.8}{530.8}{\textbf{41,870}}
\fill[rowhl] (82.9,497.4) rectangle (104.2,516);
\TC[text=black!80]{93.6}{512.6}{26}
\end{scope}
\TL[font=\fs{15.5}{18}\bfseries]{79.2}{7181}{Figure 6: Screenshot of final results}
% ---- step 5
\StepHd{7265.4}{5}
\TL{79.2}{7307.2}{Hence, the minimum cost that Company CCC required to spend in order to fulfill the demand}
\TL{79.2}{7329.7}{of all four plants is \textbf{\$41,870}.}
\end{tikzpicture}
\end{document}
